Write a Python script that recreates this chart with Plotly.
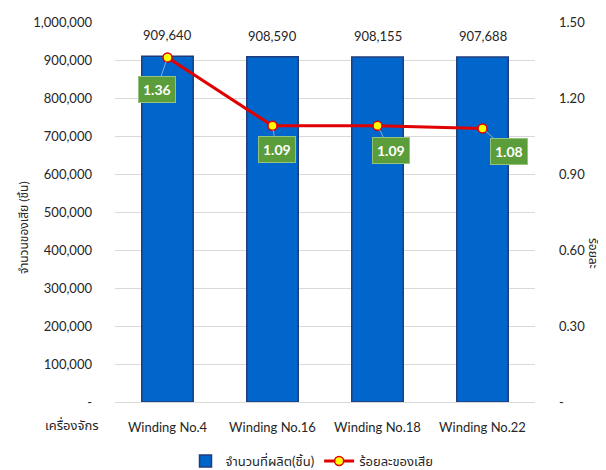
import plotly.graph_objects as go

categories = ["Winding No.4", "Winding No.16", "Winding No.18", "Winding No.22"]
produced = [909640, 908590, 908155, 907688]
defect_pct = [1.36, 1.09, 1.09, 1.08]

left_ticks = [0, 100000, 200000, 300000, 400000, 500000, 600000, 700000, 800000, 900000, 1000000]
left_ticktext = ["-"] + [f"{v:,}" for v in left_ticks[1:]]
right_ticks = [0, 0.30, 0.60, 0.90, 1.20, 1.50]
right_ticktext = ["-"] + [f"{v:.2f}" for v in right_ticks[1:]]

FONT = "Lato, 'Noto Sans', 'Noto Sans Thai', sans-serif"
TXT = "#262626"

W, H = 606, 470
OFF = 8  # page body margin offset
# plot area in reference (page) pixels: x 115..535, y 22..402
L = 115 - OFF
T = 22 - OFF
R = W - (535 - OFF)
B = H - (402 - OFF)
pw, ph = W - L - R, H - T - B


def px(xp):
    return (xp - OFF - L) / pw


def py(yp):
    return (H - B - (yp - OFF)) / ph


fig = go.Figure()
fig.add_trace(go.Bar(
    x=categories, y=produced, name="จำนวนที่ผลิต(ชิ้น)",
    marker=dict(color="#0066CC", line=dict(color="#1F3C7A", width=1.5)),
    width=0.49, yaxis="y",
))
fig.add_trace(go.Scatter(
    x=categories, y=defect_pct, name="ร้อยละของเสีย", yaxis="y2",
    mode="lines+markers",
    line=dict(color="#E00000", width=3),
    marker=dict(color="#FFFF00", size=9, line=dict(color="#E00000", width=1.5)),
))

annotations = []
for c, v in zip(categories, produced):
    annotations.append(dict(x=c, y=v, xref="x", yref="y", text=f"{v:,}",
                            showarrow=False, yanchor="bottom", yshift=11,
                            font=dict(family=FONT, size=13, color=TXT)))
offsets = [(-11, 32), (4, 24), (13, 25), (26, 23)]
for c, v, (ax, ay) in zip(categories, defect_pct, offsets):
    annotations.append(dict(x=c, y=v, xref="x", yref="y2", text=f"<b>{v:.2f}</b>",
                            showarrow=True, arrowhead=0, arrowwidth=1, arrowcolor="#8EA9C8",
                            ax=ax, ay=ay, standoff=4,
                            bgcolor="#5B9D3A", bordercolor="#93C47D", borderwidth=1, borderpad=4,
                            font=dict(family=FONT, size=14, color="white")))
annotations.append(dict(x=px(72), y=py(424), xref="paper", yref="paper", text="เครื่องจักร",
                        xanchor="center", yanchor="middle",
                        showarrow=False, font=dict(family=FONT, size=13, color=TXT)))
annotations.append(dict(x=px(23), y=py(228), xref="paper", yref="paper", text="จำนวนของเสีย (ชิ้น)",
                        xanchor="center", yanchor="middle",
                        textangle=-90, showarrow=False, font=dict(family=FONT, size=12, color=TXT)))
annotations.append(dict(x=px(594), y=py(253), xref="paper", yref="paper", text="ร้อยละ",
                        xanchor="center", yanchor="middle",
                        textangle=90, showarrow=False, font=dict(family=FONT, size=12, color=TXT)))

fig.update_layout(
    width=W, height=H,
    margin=dict(l=L, r=R, t=T, b=B, autoexpand=False),
    paper_bgcolor="white", plot_bgcolor="white",
    font=dict(family=FONT, size=13, color=TXT),
    showlegend=True,
    legend=dict(orientation="h", x=px(312), xanchor="center", y=py(461), yanchor="middle",
                font=dict(family=FONT, size=13, color=TXT)),
    xaxis=dict(showgrid=False, showline=True, linecolor="#D9D9D9", ticks="",
               ticklabelstandoff=13, tickfont=dict(size=13, color=TXT), automargin=False),
    yaxis=dict(range=[0, 1000000], tickvals=left_ticks, ticktext=left_ticktext,
               showgrid=True, gridcolor="#D9D9D9", gridwidth=1, zeroline=False,
               showline=False, ticks="", ticklabelstandoff=22, automargin=False,
               tickfont=dict(size=13, color=TXT)),
    yaxis2=dict(range=[0, 1.5], tickvals=right_ticks, ticktext=right_ticktext,
                overlaying="y", side="right", showgrid=False, zeroline=False, automargin=False,
                ticks="", ticklabelstandoff=23, tickfont=dict(size=13, color=TXT)),
    annotations=annotations,
)

fig.write_html("out.html")
